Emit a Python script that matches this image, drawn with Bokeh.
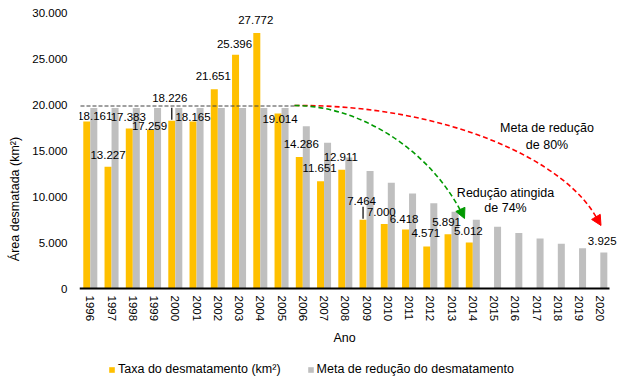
from bokeh.plotting import figure
from bokeh.models import (Range1d, FixedTicker, Legend, LegendItem, ColumnDataSource,
                          Arrow, NormalHead)
from bokeh.embed import file_html
from bokeh.resources import INLINE
from bokeh.core.properties import value

# ---------------- data ----------------
years = list(range(1996, 2021))
taxa = [18161, 13227, 17383, 17259, 18226, 18165, 21651, 25396, 27772, 19014,
        14286, 11651, 12911, 7464, 7000, 6418, 4571, 5891, 5012]
meta = [19625, 19625, 19625, 19625, 19625, 19625, 19625, 19625, 19625, 19625,
        17631, 15840, 14230, 12785, 11486, 10319, 9271, 8329, 7483, 6723,
        6040, 5426, 4875, 4380, 3925]
y_ticks = [0, 5000, 10000, 15000, 20000, 25000, 30000]

# label placement tweaks (pixels)
lab_dx = [8, 0, -1, -1, -2, 0, -1, -1, -1, 2, 2, -1, -1, -1.5, -3, -1.5, -1, -1.5, -1]
lab_dy = [-5, -12, -12, -4, -23, -4, -13, -11, -12.5, 5, -13, -13, -12.5, -19, -12, -10, -13, -12, -11]
leader = [False, False, False, False, True, False, False, False, False, False,
          False, False, False, True, False, False, False, False, False]

YELLOW = "#FFC000"
GRAY = "#BFBFBF"
FONT = "Liberation Sans"
NUM_SIZE = "11.5px"
TXT_SIZE = "12.5px"
PX = 5000 / 46.0  # data units per pixel (vertical)

def fmt(v):
    return f"{v:,}".replace(",", ".")

# frame: left 79, top 12, right 620, bottom 385 ; value 0 sits at y=288
p = figure(width=620, height=385, output_backend="svg", toolbar_location=None,
           x_range=Range1d(-0.508, 24.95), y_range=Range1d(-97 * PX, 30000),
           min_border_left=79, min_border_right=0, min_border_top=12, min_border_bottom=0)
p.outline_line_color = None
p.grid.grid_line_color = None
p.background_fill_color = "white"

xs = list(range(len(years)))
src_t = ColumnDataSource(dict(x=[i - 0.165 for i in range(len(taxa))], top=taxa,
                              lab=[fmt(v) for v in taxa], dx=lab_dx, dy=lab_dy))
src_m = ColumnDataSource(dict(x=[i + 0.165 for i in xs], top=meta))

r_t = p.vbar(x="x", top="top", bottom=0, width=0.33, source=src_t, fill_color=YELLOW, line_color=None)
r_m = p.vbar(x="x", top="top", bottom=0, width=0.33, source=src_m, fill_color=GRAY, line_color=None)

# data labels
p.text(x="x", y="top", text="lab", x_offset="dx", y_offset="dy", source=src_t,
       text_font=value(FONT), text_font_size=NUM_SIZE, text_align="center",
       text_baseline="middle", text_color="#000000")
p.text(x=[len(years) - 1 + 0.165], y=[meta[-1]], text=[fmt(meta[-1])], x_offset=-1.6, y_offset=-11,
       text_font=value(FONT), text_font_size=NUM_SIZE, text_align="center",
       text_baseline="middle", text_color="#000000")

# leader lines
lx = [i - 0.165 for i, f in enumerate(leader) if f]
ly0 = [taxa[i] + 1 * PX for i, f in enumerate(leader) if f]
ly1 = [taxa[i] + 13 * PX for i, f in enumerate(leader) if f]
p.segment(x0=lx, y0=ly0, x1=lx, y1=ly1, line_color="#000000", line_width=1.2)

def dx(px):
    return (px - 89.8) / 21.25
def dy(py):
    return (288 - py) * PX

# reference level dashed line
p.segment(x0=[dx(80)], y0=[dy(105.5)], x1=[dx(294)], y1=[dy(105.5)],
          line_color="#404040", line_width=1, line_dash="4 2")

# red curve (meta 80%)
p.bezier(x0=[dx(294)], y0=[dy(105)], x1=[dx(598)], y1=[dy(221)],
         cx0=[dx(445)], cy0=[dy(104)], cx1=[dx(568)], cy1=[dy(160)],
         line_color="#FF0000", line_width=1.6, line_dash="5 3")
p.add_layout(Arrow(end=NormalHead(size=10, fill_color="#FF0000", line_color="#FF0000"),
                   x_start=dx(594), y_start=dy(214), x_end=dx(600.5), y_end=dy(225),
                   line_alpha=0))
# green curve (74%)
p.bezier(x0=[dx(294)], y0=[dy(105)], x1=[dx(462)], y1=[dy(214)],
         cx0=[dx(360)], cy0=[dy(105)], cx1=[dx(430)], cy1=[dy(150)],
         line_color="#009900", line_width=1.6, line_dash="5 3")
p.add_layout(Arrow(end=NormalHead(size=10, fill_color="#009900", line_color="#009900"),
                   x_start=dx(459), y_start=dy(207), x_end=dx(464), y_end=dy(218),
                   line_alpha=0))

p.text(x=[dx(546.5)], y=[dy(135.8)], text=["Meta de redução\nde 80%"],
       text_font=value(FONT), text_font_size=TXT_SIZE, text_align="center",
       text_baseline="middle", text_line_height=1.2, text_color="#000000")
p.text(x=[dx(505)], y=[dy(200)], text=["Redução atingida\nde 74%"],
       text_font=value(FONT), text_font_size=TXT_SIZE, text_align="center",
       text_baseline="middle", text_line_height=1.07, text_color="#000000")

# axes
p.xaxis.fixed_location = 0
p.xaxis.ticker = FixedTicker(ticks=xs)
p.xaxis.major_label_overrides = {i: str(y) for i, y in enumerate(years)}
p.xaxis.major_label_orientation = "vertical"
p.xaxis.major_tick_line_color = None
p.xaxis.major_tick_out = 0
p.xaxis.major_tick_in = 0
p.xaxis.minor_tick_line_color = None
p.xaxis.axis_line_width = 2
p.xaxis.axis_line_color = "#000000"
p.xaxis.bounds = (-0.508, 24.43)
p.xaxis.major_label_standoff = 7
p.xaxis.axis_label = "Ano"
p.xaxis.axis_label_standoff = 7

p.yaxis.ticker = FixedTicker(ticks=y_ticks)
p.yaxis.bounds = (0, 30000)
p.yaxis.major_label_overrides = {t: fmt(t) for t in y_ticks}
p.yaxis.axis_line_color = None
p.yaxis.major_tick_line_color = None
p.yaxis.major_tick_out = 0
p.yaxis.major_tick_in = 0
p.yaxis.minor_tick_line_color = None
p.yaxis.major_label_standoff = 12
p.yaxis.axis_label = "Área desmatada (km²)"
p.yaxis.axis_label_standoff = 7

for ax in (p.xaxis[0], p.yaxis[0]):
    ax.major_label_text_font = FONT
    ax.major_label_text_font_size = NUM_SIZE
    ax.major_label_text_color = "#000000"
    ax.axis_label_text_font = FONT
    ax.axis_label_text_font_size = TXT_SIZE
    ax.axis_label_text_font_style = "normal"
    ax.axis_label_text_color = "#000000"

legend = Legend(items=[LegendItem(label="Taxa do desmatamento (km²)", renderers=[r_t]),
                       LegendItem(label="Meta de redução do desmatamento", renderers=[r_m])],
                orientation="horizontal", location=(29, 9),
                glyph_width=7, glyph_height=7, label_standoff=3, spacing=26,
                label_text_font=FONT, label_text_font_size=TXT_SIZE, label_height=7,
                label_text_color="#000000", border_line_color=None,
                background_fill_alpha=0, padding=0, margin=0)
p.add_layout(legend, "center")

open("out.html", "w").write(file_html(p, INLINE))
